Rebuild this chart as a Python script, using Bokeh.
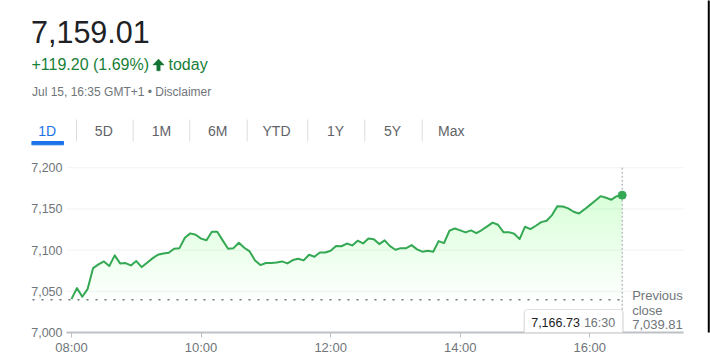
import numpy as np
from bokeh.plotting import figure
from bokeh.models import Range1d, FixedTicker, Label
from bokeh.embed import file_html
from bokeh.resources import INLINE

# ---------------- data ----------------
price_now = 7159.01
change_abs = 119.20
change_pct = 1.69
stamp_text = "Jul 15, 16:35 GMT+1 • Disclaimer"
periods = ["1D", "5D", "1M", "6M", "YTD", "1Y", "5Y", "Max"]
prev_close = 7039.81

minutes = list(range(0, 511, 5))          # minutes after 08:00, 5-minute steps
values = [
    7040.5, 7053.9, 7043.4, 7053.0, 7078.2, 7082.6, 7086.3, 7080.6, 7093.6, 7083.9,
    7084.3, 7081.4, 7086.7, 7079.4, 7084.7, 7090.0, 7094.4, 7096.0, 7096.8, 7101.7,
    7102.4, 7115.0, 7120.3, 7118.7, 7114.0, 7112.0, 7122.3, 7122.3, 7111.8, 7101.7,
    7102.4, 7109.0, 7102.9, 7098.4, 7087.5, 7081.8, 7084.3, 7084.3, 7085.1, 7086.3,
    7083.9, 7087.9, 7089.6, 7087.5, 7094.4, 7092.0, 7097.2, 7097.2, 7099.3, 7104.9,
    7104.7, 7108.0, 7105.7, 7111.4, 7108.1, 7114.2, 7113.3, 7107.3, 7111.8, 7104.9,
    7100.5, 7102.4, 7102.4, 7106.1, 7100.9, 7098.1, 7099.3, 7098.1, 7110.9, 7108.5,
    7123.5, 7126.3, 7123.9, 7121.5, 7123.9, 7120.6, 7124.4, 7128.8, 7133.3, 7130.8,
    7121.8, 7121.8, 7119.9, 7113.3, 7128.4, 7125.5, 7129.6, 7134.0, 7135.7, 7142.5,
    7153.4, 7153.0, 7150.6, 7146.6, 7144.5, 7149.4, 7154.6, 7160.0, 7165.5, 7163.6,
    7161.2, 7165.5, 7166.73,
]
x_ticks = [0, 120, 240, 360, 480]
x_tick_labels = ["08:00", "10:00", "12:00", "14:00", "16:00"]
y_ticks = [7000, 7050, 7100, 7150, 7200]
y_tick_labels = ["7,000", "7,050", "7,100", "7,150", "7,200"]
hover_time = "16:30"

FONT = "Liberation Sans"
GREEN_LINE = "#34a853"
GREEN_TEXT = "#188038"
GRAY = "#70757a"

# ---------------- layout helpers (screen pixel -> chart units) ----------------
W, H = 710, 363
PX_MIN0, PX_PER_MIN = 71.0, 1.0798      # x pixel of 08:00, pixels per minute
PY_BASE, PX_PER_UNIT = 332.0, 0.8238    # y pixel of 7,000, pixels per index point
def X(px):
    return (px - PX_MIN0) / PX_PER_MIN
def Y(py):
    return y_ticks[0] + (PY_BASE - py) / PX_PER_UNIT

FR_L, FR_R, FR_T, FR_B = 31, W, 0, 332     # plot frame in page pixels

p = figure(width=W, height=H,
           x_range=Range1d(X(FR_L), X(FR_R)), y_range=Range1d(y_ticks[0], Y(FR_T)),
           output_backend="svg", toolbar_location=None,
           min_border_left=FR_L, min_border_right=0, min_border_top=0,
           min_border_bottom=H - FR_B)
p.outline_line_color = None
p.background_fill_color = "white"
p.border_fill_color = "white"
p.grid.visible = False

def rect_label(px, py, w, h, color, alpha=1.0, line_color=None, radius=0, line_width=1):
    """A plain box drawn as an (unclipped) label background."""
    p.add_layout(Label(x=X(px), y=Y(py), text=" ", text_font_size="1px",
                       text_color=color or "white", text_alpha=alpha,
                       text_align="left", text_baseline="top",
                       padding=dict(left=0, right=int(w), top=0, bottom=int(h)),
                       background_fill_color=color, background_fill_alpha=alpha,
                       border_line_color=line_color, border_line_width=line_width,
                       border_radius=radius))

# ---------------- header ----------------
def htext(px, py, text, size, color, align="left"):
    p.add_layout(Label(x=X(px), y=Y(py), text=text, text_font=FONT, text_font_size=size,
                       text_color=color, text_align=align, text_baseline="middle"))

htext(30.5, 31, f"{price_now:,.2f}", "30.5px", "#202124")
htext(31, 64, f"+{change_abs:.2f} ({change_pct:.2f}%)", "16px", GREEN_TEXT)
arrow_px = [158, 163.6, 159.7, 159.7, 156.3, 156.3, 152.4]
arrow_py = [58.6, 64.4, 64.4, 70.3, 70.3, 64.4, 64.4]
p.patch([X(a) for a in arrow_px], [Y(b) for b in arrow_py],
        color="#137333", line_width=0.5)
htext(168, 64, "today", "16px", GREEN_TEXT)
htext(31.5, 91.7, stamp_text, "12px", GRAY)

tab_centers = [46.7, 103.3, 161, 217.3, 276, 335, 392, 450.7]
for i, (lab, cx) in enumerate(zip(periods, tab_centers)):
    htext(cx, 130, lab, "14px", "#1a73e8" if i == 0 else "#5f6368", align="center")
seps = [76, 132.7, 189.3, 246.7, 307.3, 364.3, 421.7]
p.segment(x0=[X(s) for s in seps], y0=[Y(119)] * len(seps),
          x1=[X(s) for s in seps], y1=[Y(141)] * len(seps),
          line_color="#dadce0", line_width=1)
p.quad(left=[X(31)], right=[X(63)], top=[Y(141)], bottom=[Y(144.3)], color="#1a73e8")

# ---------------- axes ----------------
p.xaxis.ticker = FixedTicker(ticks=x_ticks)
p.xaxis.major_label_overrides = dict(zip(x_ticks, x_tick_labels))
p.xaxis.bounds = (X(66), X(683))
p.xaxis.axis_line_color = "#bdc1c6"
p.xaxis.axis_line_width = 2
p.xaxis.major_tick_line_color = "#bdc1c6"
p.xaxis.major_tick_out = 5
p.xaxis.major_tick_in = 0
p.xaxis.minor_tick_line_color = None
p.xaxis.major_label_standoff = 2
p.xaxis.major_label_text_font = FONT
p.xaxis.major_label_text_font_size = "13px"
p.xaxis.major_label_text_color = GRAY

p.yaxis.ticker = FixedTicker(ticks=y_ticks)
p.yaxis.major_label_overrides = dict(zip(y_ticks, y_tick_labels))
p.yaxis.axis_line_color = None
p.yaxis.major_tick_line_color = None
p.yaxis.minor_tick_line_color = None
p.yaxis.major_tick_out = 0
p.yaxis.major_tick_in = 0
p.yaxis.major_label_standoff = -(62 - FR_L)
p.yaxis.major_label_text_font = FONT
p.yaxis.major_label_text_font_size = "12.5px"
p.yaxis.major_label_text_color = GRAY

# horizontal grid lines (only over the plotting strip)
p.segment(x0=[X(66)] * 4, y0=y_ticks[1:], x1=[X(683)] * 4, y1=y_ticks[1:],
          line_color="#f1f3f4", line_width=1)

# ---------------- series ----------------
xs = np.array(minutes, dtype=float)
vs = np.array(values, dtype=float)

# vertical gradient under the line: stacked translucent bands
levels = np.linspace(7036, 7170, 40)
for lv in levels:
    p.varea(x=xs, y1=np.full_like(vs, lv), y2=np.maximum(vs, lv),
            fill_color=GREEN_LINE, fill_alpha=0.0058)

p.line(x=[X(32), minutes[-1]], y=[prev_close, prev_close],
       line_color=GRAY, line_width=1.5, line_dash="2 7")
p.line(x=[minutes[-1], minutes[-1]], y=[y_ticks[-1], y_ticks[0]],
       line_color="#9aa0a6", line_width=1, line_dash="2 2")
p.line(x=xs, y=vs, line_color=GREEN_LINE, line_width=2, line_join="round")
p.scatter(x=[minutes[-1]], y=[values[-1]], marker="circle", size=8,
          fill_color=GREEN_LINE, line_color=GREEN_LINE)

# tooltip card (shadow + white box), then its two texts
t_end = minutes[-1]
rect_label(523, 309, 100, 30, "black", alpha=0.10, radius=4)
rect_label(524, 309, 98, 28, "white", line_color="#e0e0e0", radius=3)
p.add_layout(Label(x=t_end, y=y_ticks[0], x_offset=-91, y_offset=10,
                   text=f"{values[-1]:,.2f}", text_font=FONT, text_font_size="12.5px",
                   text_color="#202124", text_align="left", text_baseline="middle"))
p.add_layout(Label(x=t_end, y=y_ticks[0], x_offset=-7, y_offset=10,
                   text=hover_time, text_font=FONT, text_font_size="12.5px",
                   text_color=GRAY, text_align="right", text_baseline="middle"))

# previous close annotation
for txt, off in [("Previous", 332 - 295.3), ("close", 332 - 309.8), (f"{prev_close:,.2f}", 332 - 323.8)]:
    p.add_layout(Label(x=t_end, y=y_ticks[0], x_offset=10, y_offset=off, text=txt,
                       text_font=FONT, text_font_size="13px", text_color=GRAY,
                       text_align="left", text_baseline="middle"))

# thin dark frame around the card (top edge falls just outside the canvas)
p.add_layout(Label(x=X(1), y=Y(-4), text=" ", text_font_size="1px", text_alpha=0.01,
                   text_align="left", text_baseline="top",
                   padding=dict(left=0, right=707, top=0, bottom=365),
                   background_fill_color=None, border_line_color="black",
                   border_line_width=2))

open("out.html", "w").write(file_html(p, INLINE))
